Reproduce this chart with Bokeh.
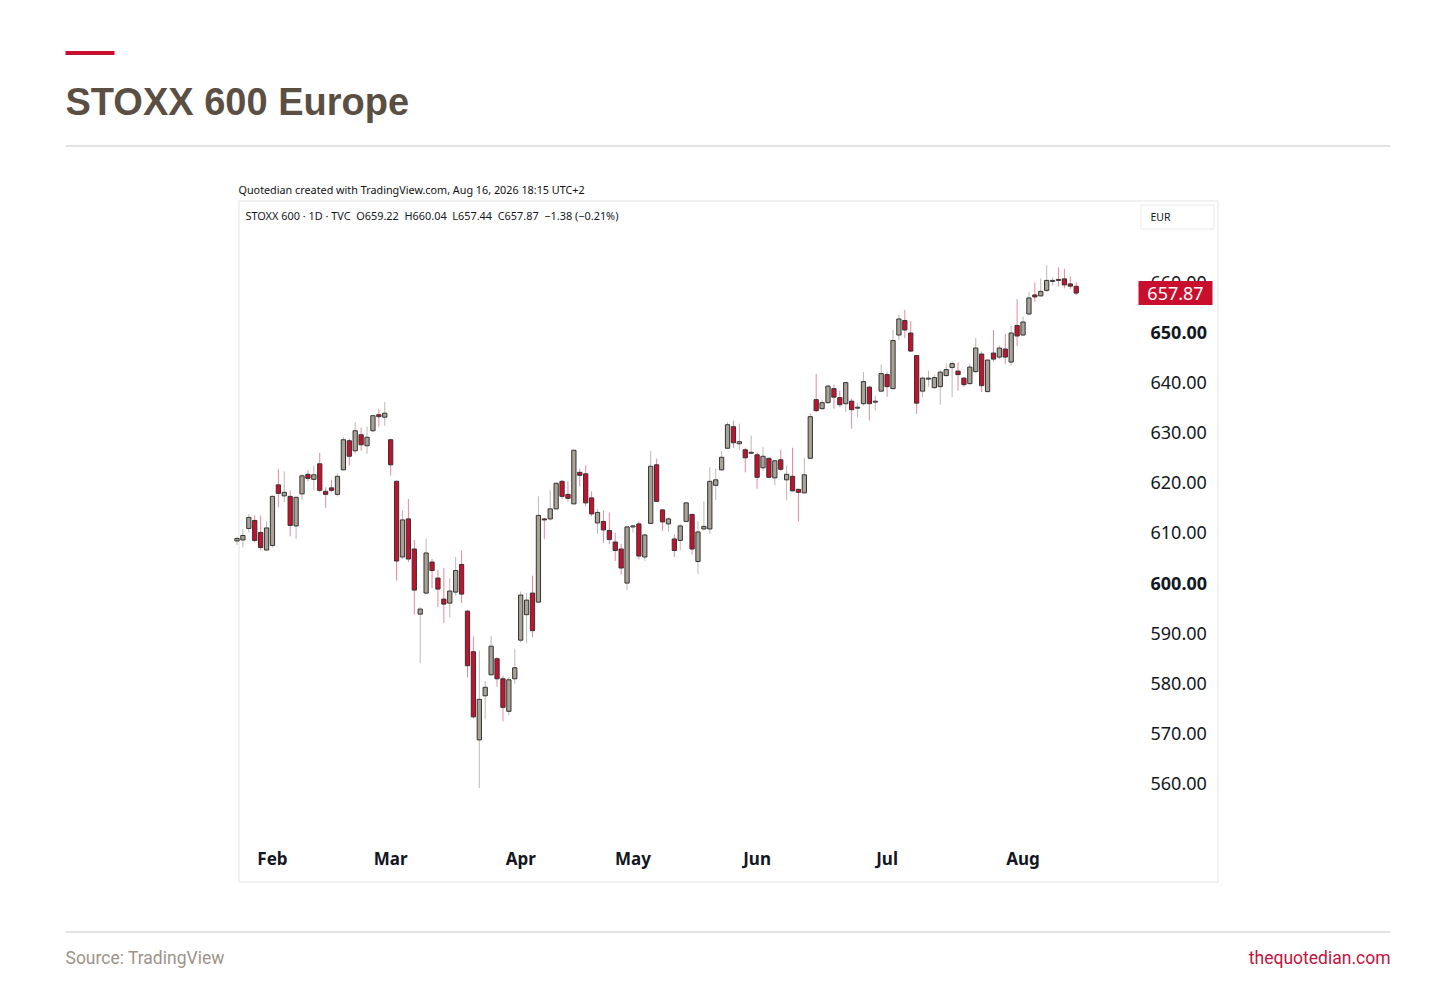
from bokeh.plotting import figure
from bokeh.models import Range1d, ColumnDataSource
from bokeh.core.properties import value
from bokeh.embed import file_html
from bokeh.resources import INLINE

# ---------------- data (daily candles, trading-day index) ----------------
opens = [608.4, 608.6, 610.9, 612.5, 610.1, 606.6, 607.5, 619.6, 617.4, 617.3,
         611.4, 617.8, 621.7, 620.7, 623.8, 618.3, 619.0, 617.7, 622.6, 628.4,
         626.4, 629.6, 627.4, 630.4, 633.6, 633.1, 628.6, 620.3, 605.2, 612.8,
         606.8, 593.8, 598.0, 604.2, 601.0, 596.8, 596.0, 598.2, 603.7, 594.4,
         586.3, 568.7, 577.5, 581.7, 584.9, 580.9, 574.4, 580.9, 588.6, 593.7,
         598.0, 596.2, 612.8, 612.8, 614.8, 620.3, 617.7, 615.8, 622.1, 621.8,
         617.0, 612.0, 612.3, 610.5, 608.2, 606.8, 600.0, 611.2, 611.8, 605.2,
         611.9, 623.6, 614.6, 611.8, 608.8, 608.5, 612.3, 613.7, 604.3, 610.8,
         610.8, 619.5, 622.6, 626.9, 631.2, 627.8, 626.6, 625.9, 625.6, 623.0,
         624.9, 621.0, 624.6, 620.6, 621.3, 618.7, 618.0, 624.9, 636.6, 634.8,
         636.0, 638.8, 637.0, 635.8, 636.3, 634.9, 635.8, 639.1, 636.1, 638.3,
         641.6, 638.8, 649.5, 652.4, 649.9, 645.4, 638.3, 640.7, 639.0, 639.2,
         641.4, 643.0, 642.3, 640.9, 639.8, 642.2, 645.7, 638.2, 645.9, 645.1,
         646.7, 644.1, 651.4, 649.5, 653.7, 657.5, 657.3, 658.4, 660.2, 660.6,
         660.7, 659.7, 659.22]
highs = [609.3, 610.8, 613.8, 613.5, 613.5, 612.3, 617.5, 622.8, 622.3, 618.5,
         617.3, 621.8, 622.5, 623.5, 626.0, 619.1, 620.6, 621.8, 629.2, 628.8,
         632.1, 631.0, 631.2, 633.6, 634.8, 636.1, 628.8, 620.5, 614.5, 616.8,
         608.6, 595.2, 608.9, 604.8, 602.6, 603.0, 601.0, 605.2, 606.5, 594.6,
         589.3, 586.5, 580.4, 589.4, 585.2, 581.5, 581.2, 586.9, 598.3, 598.0,
         601.5, 617.3, 613.0, 618.5, 620.1, 620.6, 620.3, 626.6, 622.8, 623.5,
         618.3, 614.8, 614.5, 614.1, 610.1, 607.8, 611.3, 611.6, 612.3, 609.9,
         626.4, 624.8, 614.8, 613.1, 609.7, 611.8, 616.1, 613.8, 612.3, 616.3,
         623.1, 622.9, 626.3, 632.1, 632.4, 631.8, 627.0, 629.4, 626.1, 627.2,
         625.0, 624.6, 626.6, 623.4, 627.0, 618.8, 625.0, 633.8, 641.7, 636.6,
         639.6, 639.6, 638.4, 640.1, 636.8, 635.9, 642.1, 639.4, 637.4, 643.6,
         642.1, 650.5, 653.6, 654.5, 652.3, 645.5, 641.2, 642.4, 641.6, 642.6,
         643.9, 644.3, 644.0, 641.1, 643.8, 648.9, 646.2, 644.6, 650.5, 647.4,
         649.7, 651.3, 656.7, 653.2, 658.1, 660.0, 660.8, 663.4, 661.0, 663.0,
         662.7, 661.2, 660.04]
lows = [607.6, 607.1, 610.1, 608.1, 606.5, 606.5, 607.1, 615.1, 616.1, 609.3,
        608.8, 616.6, 620.3, 618.5, 618.1, 615.0, 618.1, 617.3, 622.5, 623.5,
        625.8, 626.4, 625.8, 630.1, 631.2, 631.4, 621.5, 600.5, 604.8, 604.2,
        593.7, 584.0, 597.8, 599.0, 595.2, 592.0, 593.2, 597.5, 596.0, 581.2,
        573.0, 559.1, 572.9, 581.5, 579.3, 572.4, 573.6, 579.9, 588.2, 588.0,
        589.2, 596.0, 608.8, 612.5, 614.7, 616.8, 616.3, 615.7, 619.3, 615.3,
        613.3, 609.8, 608.0, 607.8, 604.4, 601.7, 598.6, 610.1, 604.7, 604.4,
        611.8, 616.2, 610.4, 610.2, 605.2, 606.5, 612.2, 605.7, 601.8, 610.5,
        609.8, 616.6, 622.4, 626.8, 627.0, 626.6, 622.1, 625.8, 618.8, 622.4,
        621.0, 619.5, 622.4, 616.5, 618.3, 612.3, 617.9, 624.8, 634.1, 634.6,
        635.8, 634.8, 635.1, 634.1, 630.8, 633.1, 635.4, 632.4, 634.4, 638.1,
        637.2, 638.6, 648.5, 648.9, 646.1, 633.8, 637.1, 639.2, 638.8, 635.6,
        641.2, 637.1, 638.4, 639.1, 639.6, 641.9, 638.1, 638.1, 644.2, 644.7,
        643.7, 643.4, 647.3, 649.3, 653.5, 656.1, 657.3, 658.1, 659.4, 659.2,
        658.8, 658.7, 657.44]
closes = [608.9, 609.5, 613.1, 608.5, 607.1, 611.0, 617.3, 617.9, 618.1, 611.5,
          617.1, 621.4, 620.9, 621.6, 618.5, 617.7, 618.5, 621.3, 628.6, 625.3,
          630.4, 627.6, 629.1, 633.4, 633.2, 633.9, 623.6, 604.4, 612.6, 604.8,
          598.6, 594.8, 606.0, 602.5, 598.8, 595.8, 598.4, 602.5, 597.8, 583.5,
          573.3, 576.8, 579.2, 587.4, 580.9, 575.2, 580.7, 583.1, 597.6, 596.6,
          590.5, 613.5, 612.6, 614.8, 619.9, 617.3, 616.9, 626.5, 621.5, 616.0,
          613.8, 614.1, 610.6, 608.7, 606.5, 603.0, 611.2, 611.4, 605.4, 609.6,
          623.3, 616.3, 612.2, 612.8, 606.5, 611.4, 616.0, 606.8, 610.2, 611.3,
          620.3, 620.6, 625.1, 631.6, 628.0, 628.2, 625.0, 626.1, 621.1, 625.3,
          621.1, 624.4, 622.7, 621.7, 618.4, 618.1, 621.6, 633.2, 634.4, 636.0,
          639.3, 637.1, 635.6, 640.0, 634.6, 635.1, 640.2, 635.8, 636.3, 641.8,
          639.2, 648.4, 652.7, 650.5, 646.3, 635.9, 640.9, 640.9, 641.0, 642.1,
          642.6, 643.8, 641.6, 639.6, 643.1, 646.9, 639.4, 644.5, 644.7, 646.9,
          645.1, 649.9, 649.3, 652.1, 656.9, 657.1, 658.2, 660.4, 660.4, 660.4,
          659.5, 659.25, 657.87]

month_ticks = [6, 26, 48, 67, 88, 110, 133]
month_labels = ["Feb", "Mar", "Apr", "May", "Jun", "Jul", "Aug"]
price_ticks = [560, 570, 580, 590, 600, 610, 620, 630, 640, 650, 660]
bold_ticks = [600, 650]

title_text = "STOXX 600 Europe"
created_text = "Quotedian created with TradingView.com, Aug 16, 2026 18:15 UTC+2"
legend_text = ("STOXX 600 \u00b7 1D \u00b7 TVC\u00a0\u00a0O659.22\u00a0\u00a0H660.04\u00a0\u00a0"
               "L657.44\u00a0\u00a0C657.87\u00a0\u00a0\u22121.38 (\u22120.21%)")
currency_text = "EUR"
source_text = "Source: TradingView"
site_text = "thequotedian.com"

# ---------------- page geometry helpers (page pixel -> data units) ----------------
W, H = 1440, 974
STEP = 5.91      # px per trading day
X0 = 236.5       # page px of first candle
PXU = 5.011      # px per index point
Y560 = 783.0     # page px of 560


def X(px):
    return (px - X0) / STEP


def Y(py):
    return 560 + (Y560 - py) / PXU


UP_FILL, DN_FILL = "#a9a296", "#c8102e"
UP_WICK, DN_WICK = "#bdb8b2", "#e48a9e"
OUTLINE = "#333333"
RED = "#c8102e"

idx = list(range(len(opens)))
up = [c >= o for o, c in zip(opens, closes)]
src = ColumnDataSource(dict(
    x=idx, o=opens, h=highs, l=lows, c=closes,
    top=[max(o, c) for o, c in zip(opens, closes)],
    bot=[min(o, c) for o, c in zip(opens, closes)],
    fill=[UP_FILL if u else DN_FILL for u in up],
    wick=[UP_WICK if u else DN_WICK for u in up],
))

p = figure(width=W, height=H, x_range=Range1d(X(0), X(W)),
           y_range=Range1d(Y(H), Y(0)), output_backend="svg",
           toolbar_location=None, x_axis_type=None, y_axis_type=None,
           min_border=0, outline_line_color=None,
           background_fill_color="white", border_fill_color="white")

# ---------- page decorations ----------
p.quad(left=[X(65)], right=[X(114)], top=[Y(50.5)], bottom=[Y(54.5)],
       fill_color=RED, line_color=None)
p.text(x=[X(65)], y=[Y(101)], text=[title_text], text_font=value("Liberation Sans"),
       text_font_style="bold", text_font_size="38px", text_color="#5b4f44",
       text_baseline="middle", text_align="left")
p.segment(x0=[X(65), X(65)], y0=[Y(145.5), Y(931.5)], x1=[X(1390), X(1390)],
          y1=[Y(145.5), Y(931.5)], line_color="#dadada", line_width=1.5)
p.text(x=[X(65)], y=[Y(957)], text=[source_text], text_font=value("Roboto"),
       text_font_size="17.5px", text_color="#9d938a", text_baseline="middle",
       text_align="left")
p.text(x=[X(1390)], y=[Y(957)], text=[site_text], text_font=value("Roboto"),
       text_font_size="17.5px", text_color="#c0143c", text_baseline="middle",
       text_align="right")
p.text(x=[X(238)], y=[Y(189)], text=[created_text], text_font=value("Noto Sans"),
       text_font_size="10.8px", text_color="#111111", text_baseline="middle",
       text_align="left")

# ---------- chart panel ----------
p.quad(left=[X(238.5)], right=[X(1217.5)], top=[Y(200.5)], bottom=[Y(881.5)],
       fill_color=None, line_color="#e3e3e3", line_width=1)
p.text(x=[X(245)], y=[Y(214.5)], text=[legend_text], text_font=value("Noto Sans"),
       text_font_size="10.9px", text_color="#131722", text_baseline="middle",
       text_align="left")
p.quad(left=[X(1140.5)], right=[X(1213.5)], top=[Y(204.5)], bottom=[Y(228.5)],
       fill_color="white", line_color="#e8e8e8", line_width=1)
p.text(x=[X(1150)], y=[Y(216)], text=[currency_text], text_font=value("Noto Sans"),
       text_font_size="10.5px", text_color="#131722", text_baseline="middle",
       text_align="left")

# ---------- candles ----------
p.segment(x0="x", y0="l", x1="x", y1="h", line_color="wick", line_width=1, source=src)
p.vbar(x="x", width=0.72, top="top", bottom="bot", fill_color="fill",
       line_color=OUTLINE, line_width=1, source=src)

# ---------- price scale ----------
reg = [t for t in price_ticks if t not in bold_ticks]
p.text(x=[X(1150)] * len(reg), y=reg, text=["%.2f" % t for t in reg],
       text_font=value("Noto Sans"), text_font_size="18px", text_color="#131722",
       text_baseline="middle", text_align="left")
p.text(x=[X(1150)] * len(bold_ticks), y=bold_ticks, text=["%.2f" % t for t in bold_ticks],
       text_font=value("Noto Sans"), text_font_style="bold", text_font_size="18px",
       text_color="#131722", text_baseline="middle", text_align="left")

last = closes[-1]
p.rect(x=[X(1175)], y=[last], width=74 / STEP, height=24 / PXU,
       fill_color=RED, line_color=None)
p.text(x=[X(1175)], y=[last], text=["%.2f" % last], text_font=value("Noto Sans"),
       text_font_size="18px", text_color="white", text_baseline="middle",
       text_align="center")

# ---------- time scale ----------
p.text(x=month_ticks, y=[Y(858)] * len(month_ticks), text=month_labels,
       text_font=value("Noto Sans"), text_font_style="bold", text_font_size="17px",
       text_color="#131722", text_baseline="middle", text_align="center")

open("out.html", "w").write(file_html(p, INLINE))
